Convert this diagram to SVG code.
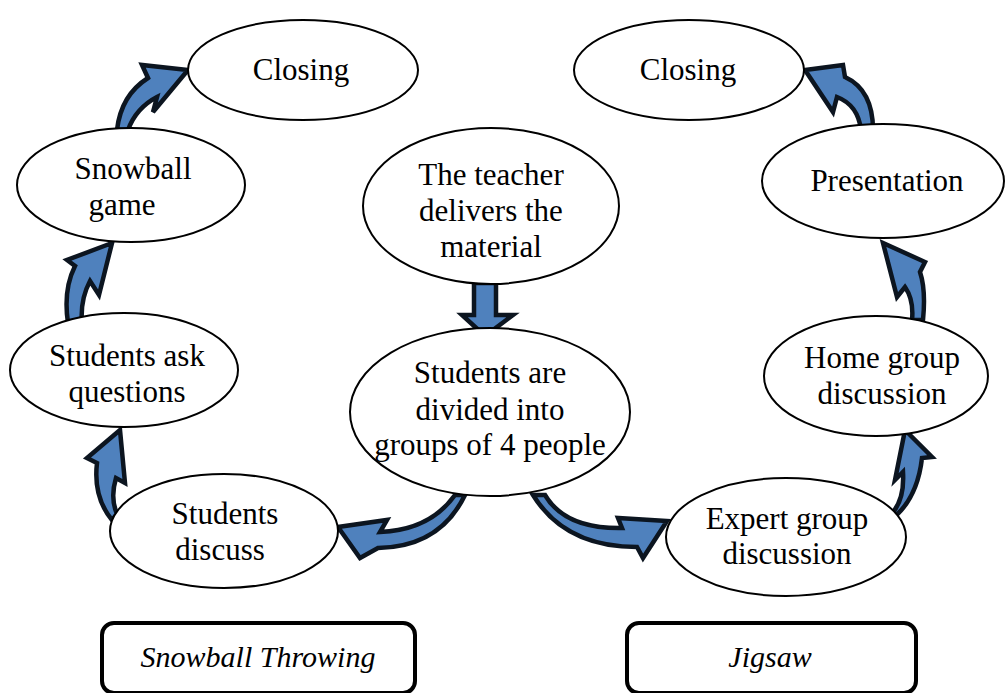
<svg xmlns="http://www.w3.org/2000/svg" width="1005" height="693" viewBox="0 0 1005 693">
<style>
.node ellipse{fill:#fff;stroke:#000;stroke-width:2}
.lbl{font-family:"Liberation Serif","Times New Roman",serif;font-size:31px;fill:#000;text-anchor:middle}
.it{font-style:italic;font-size:30px}
.box{fill:#fff;stroke:#000;stroke-width:4}
.arr{fill:#4f81bd;stroke:#0c1520;stroke-width:4.5;stroke-linejoin:miter}
</style>
<rect width="1005" height="693" fill="#fff"/>
<g id="connectors">
<path class="arr" d="M117,130 Q121,95 148,78 L142,65 L188,70 L153,112 L157,97 Q136,108 128,130 Z"/>
<path class="arr" d="M68,323 Q63,290 75,266 L67,260 L112,243 L99,295 L90,281 Q80,300 82,323 Z"/>
<path class="arr" d="M112,520 Q93,497 97,463 L87,458 L120,430 L125,483 L116,478 Q110,498 117,514 Z"/>
<path class="arr" d="M455,495 Q430,530 380,532 L387,520 L338,527 L360,558 L378,548 Q440,547 465,495 Z"/>
<path class="arr" d="M533,495 Q565,547 637,547 L643,558 L667,521 L618,518 L622,528 Q565,529 545,495 Z"/>
<path class="arr" d="M888,522 Q917,502 922,458 L932,457 L905,430 L895,480 L903,472 Q905,505 886,519 Z"/>
<path class="arr" d="M923,320 Q926,290 920,272 L925,262 L883,243 L897,297 L905,287 Q914,300 912,320 Z"/>
<path class="arr" d="M873,130 Q873,90 845,77 L843,65 L805,70 L833,112 L837,97 Q858,105 861,130 Z"/>
<path class="arr" d="M474,283 L496,283 L496,315 L513,315 L485,336 L462,315 L474,315 Z"/>
</g>
<g id="closing-left" class="node"><ellipse cx="303" cy="70" rx="115" ry="50"/><text class="lbl" x="301" y="80">Closing</text></g>
<g id="closing-right" class="node"><ellipse cx="689" cy="70" rx="115" ry="50"/><text class="lbl" x="688" y="80">Closing</text></g>
<g id="snowball-game" class="node"><ellipse cx="131" cy="185" rx="114" ry="57"/><text class="lbl" x="133" y="179">Snowball</text><text class="lbl" x="122" y="215">game</text></g>
<g id="ask-questions" class="node"><ellipse cx="124" cy="370" rx="114" ry="57"/><text class="lbl" x="127" y="366">Students ask</text><text class="lbl" x="127" y="402">questions</text></g>
<g id="students-discuss" class="node"><ellipse cx="224" cy="531" rx="114" ry="57"/><text class="lbl" x="225" y="524">Students</text><text class="lbl" x="220" y="560">discuss</text></g>
<g id="teacher" class="node"><ellipse cx="491" cy="206" rx="128" ry="78"/><text class="lbl" x="491" y="185">The teacher</text><text class="lbl" x="491" y="221">delivers the</text><text class="lbl" x="491" y="257">material</text></g>
<g id="divided" class="node"><ellipse cx="490" cy="412" rx="140" ry="84"/><text class="lbl" x="490" y="383">Students are</text><text class="lbl" x="490" y="420">divided into</text><text class="lbl" x="490" y="455">groups of 4 people</text></g>
<g id="expert" class="node"><ellipse cx="786" cy="537" rx="120" ry="59"/><text class="lbl" x="787" y="529">Expert group</text><text class="lbl" x="787" y="564">discussion</text></g>
<g id="home-group" class="node"><ellipse cx="876" cy="376" rx="112" ry="60"/><text class="lbl" x="882" y="368">Home group</text><text class="lbl" x="882" y="404">discussion</text></g>
<g id="presentation" class="node"><ellipse cx="883" cy="181" rx="121" ry="57"/><text class="lbl" x="887" y="191">Presentation</text></g>
<g id="label-snowball"><rect class="box" x="102" y="623" width="313" height="70" rx="12"/><text class="lbl it" x="258" y="667">Snowball Throwing</text></g>
<g id="label-jigsaw"><rect class="box" x="627" y="623" width="289" height="70" rx="12"/><text class="lbl it" x="770" y="667">Jigsaw</text></g>
</svg>
